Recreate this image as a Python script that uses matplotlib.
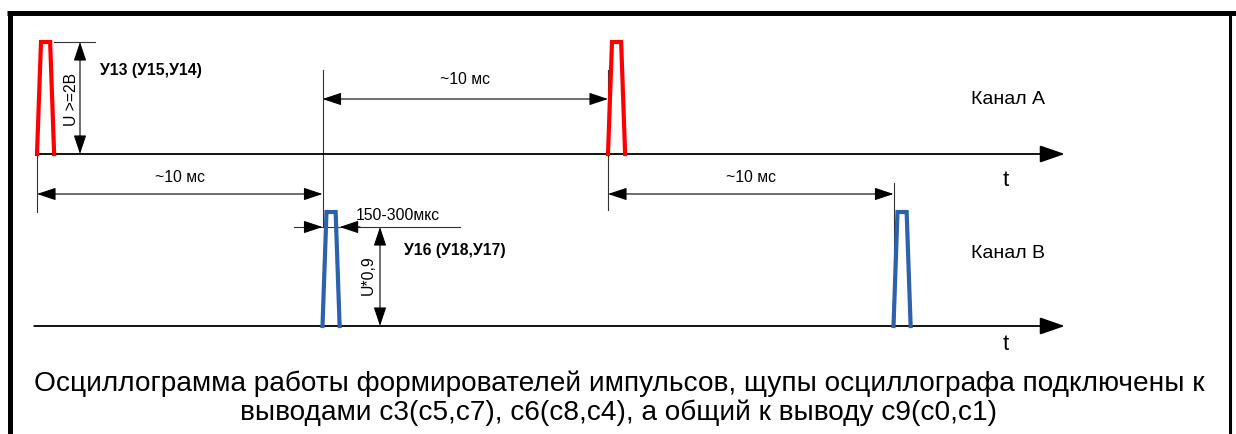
import numpy as np
import matplotlib
matplotlib.use('Agg')
import matplotlib.pyplot as plt

plt.rcParams['font.family'] = ['Liberation Sans', 'DejaVu Sans']

# pulse times (ms) and shape
pulses_a = [0.0, 10.0]      # channel A (red)
pulses_b = [5.0, 15.0]      # channel B (blue)
pulse_width = 0.30          # ms at the base
pulse_rise = 0.07           # ms, slope of each edge
amp_a = 112                 # pulse height, px
amp_b = 114

base_a = 154                # baselines, px from top
base_b = 326
t_end = 18.0                # end of time axis arrow

labels_dim = ['~10 мс', '~10 мс', '~10 мс']
caption = ['Осциллограмма работы формирователей импульсов, щупы осциллографа подключены к',
           'выводами с3(с5,с7), с6(с8,с4), а общий к выводу с9(с0,с1)']

# create figure: x in ms, y in pixels from the top
fig = plt.figure(figsize=(12.36, 4.34), dpi=100)
ax = fig.add_axes([0, 0, 1, 1])
px_per_ms = 57.1
x0 = 37
ax.set_xlim(-x0 / px_per_ms, (1236 - x0) / px_per_ms)
ax.set_ylim(434, 0)
ax.axis('off')

def ms(px):
    return (px - x0) / px_per_ms

dimc = '#333333'
fs = 11.3

def dim_arrow(xa, ya, xb, yb, head='<|-|>'):
    ax.annotate('', xy=(xb, yb), xytext=(xa, ya),
                arrowprops=dict(arrowstyle=head + ',head_length=0.9,head_width=0.3',
                                color='black', lw=0.8, shrinkA=0, shrinkB=0,
                                mutation_scale=13))

def pulse(t, base, amp, color):
    xs = [t, t + pulse_rise, t + pulse_width - pulse_rise, t + pulse_width]
    ys = [base, base - amp, base - amp, base]
    ax.plot(xs, ys, color=color, lw=3, solid_joinstyle='miter', zorder=5)

# frame
ax.plot([ms(9.5), ms(9.5)], [10.5, 434], color='black', lw=3.6, solid_capstyle='butt')
ax.plot([ms(7), ms(1236)], [13, 13], color='black', lw=3.6, solid_capstyle='butt')
ax.plot([ms(1230), ms(1230)], [12, 434], color='black', lw=2.2, solid_capstyle='butt')

# time axes
for y, start, ty in [(base_a, 0.0, 180), (base_b, -0.05, 345)]:
    ax.annotate('', xy=(t_end, y), xytext=(start, y),
                arrowprops=dict(arrowstyle='-|>,head_length=1.1,head_width=0.38',
                                color='black', lw=1.3, shrinkA=0, shrinkB=0,
                                mutation_scale=14))
    ax.text(ms(1006), ty, 't', fontsize=16, ha='center', va='center')

# pulses
for t in pulses_a:
    pulse(t, base_a, amp_a, '#ff0000')
for t in pulses_b:
    pulse(t, base_b, amp_b, '#2c61ab')

# channel labels
ax.text(ms(1008), 100, 'Канал А', fontsize=14, ha='center', va='center')
ax.text(ms(1008), 254, 'Канал В', fontsize=14, ha='center', va='center')

# amplitude A
ax.plot([ms(54), ms(95)], [base_a - amp_a, base_a - amp_a], color=dimc, lw=0.8)
dim_arrow(ms(80), base_a - amp_a, ms(80), base_a)
ax.text(ms(72), 99, 'U >=2В', fontsize=fs, rotation=90, ha='center', va='center')
ax.text(ms(100), 71, 'У13 (У15,У14)', fontsize=fs, fontweight='bold', ha='left', va='center')

# extension lines
ax.plot([pulses_b[0], pulses_b[0]], [70, 226], color=dimc, lw=0.8)
ax.plot([pulses_a[1], pulses_a[1]], [70, 210], color=dimc, lw=0.8)
ax.plot([pulses_a[0], pulses_a[0]], [base_a, 212], color=dimc, lw=0.8)
ax.plot([pulses_b[1], pulses_b[1]], [183, base_b], color=dimc, lw=0.8, zorder=1)

# ~10 ms dimensions
dim_arrow(pulses_b[0], 99, pulses_a[1], 99)
ax.text((pulses_b[0] + pulses_a[1]) / 2, 80, labels_dim[0], fontsize=fs, ha='center', va='center')
dim_arrow(pulses_a[0], 194, pulses_b[0], 194)
ax.text((pulses_a[0] + pulses_b[0]) / 2, 177, labels_dim[1], fontsize=fs, ha='center', va='center')
dim_arrow(pulses_a[1], 194, pulses_b[1], 194)
ax.text((pulses_a[1] + pulses_b[1]) / 2, 177, labels_dim[2], fontsize=fs, ha='center', va='center')

# pulse width B
yw = 227
ax.plot([ms(294), ms(460)], [yw, yw], color=dimc, lw=0.8)
dim_arrow(ms(305), yw, pulses_b[0], yw, head='-|>')
dim_arrow(ms(360), yw, pulses_b[0] + pulse_width, yw, head='-|>')
ax.text(ms(356), 216, '150-300мкс', fontsize=fs, ha='left', va='center')

# amplitude B
dim_arrow(ms(380), yw, ms(380), base_b)
ax.text(ms(368), 275, 'U*0,9', fontsize=fs, rotation=90, ha='center', va='center')
ax.text(ms(404), 250, 'У16 (У18,У17)', fontsize=fs, fontweight='bold', ha='left', va='center')

# caption
for line, yb in zip(caption, [391, 420]):
    ax.text(ms(619), yb, line, fontsize=20.2, ha='center', va='baseline')

fig.savefig('out.png', dpi=100)
